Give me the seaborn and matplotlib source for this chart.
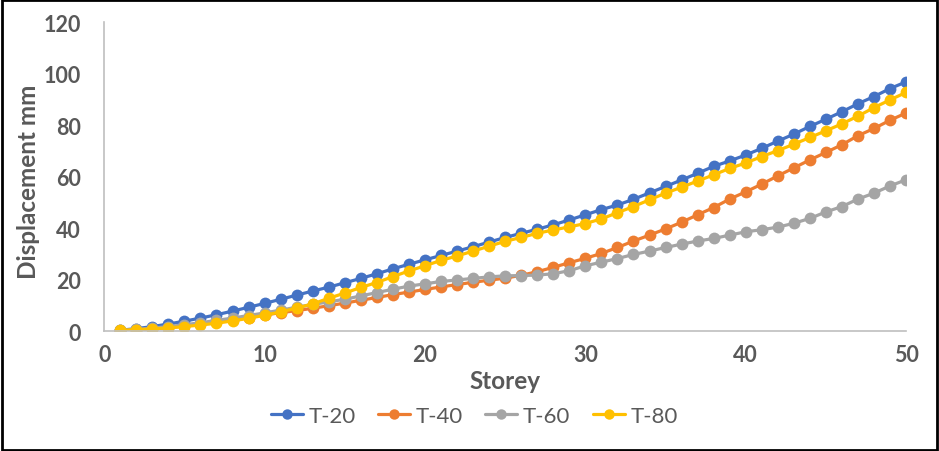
import matplotlib
matplotlib.use("Agg")
import matplotlib.pyplot as plt
import seaborn as sns
import pandas as pd
from matplotlib.patches import Rectangle

storey = list(range(1, 51))

t20 = [0.4, 1.0, 1.8, 2.8, 3.9, 5.1, 6.4, 7.8, 9.3, 10.8,
       12.4, 14.0, 15.6, 17.1, 18.8, 20.5, 22.3, 24.2, 26.0, 27.7,
       29.4, 31.1, 32.8, 34.6, 36.4, 38.0, 39.6, 41.3, 43.2, 45.2,
       47.2, 49.0, 51.2, 53.7, 56.2, 58.7, 61.3, 64.0, 66.1, 68.4,
       71.0, 73.8, 76.5, 79.5, 82.3, 85.2, 88.3, 91.1, 94.2, 96.8]

t40 = [0.2, 0.5, 0.9, 1.4, 2.0, 2.7, 3.5, 4.4, 5.3, 6.3,
       7.2, 8.0, 8.9, 9.9, 10.9, 12.0, 13.1, 14.2, 15.2, 16.2,
       17.2, 18.1, 19.0, 19.8, 20.6, 21.7, 23.1, 24.8, 26.6, 28.3,
       30.2, 32.5, 35.0, 37.3, 39.7, 42.3, 45.2, 48.0, 51.3, 54.1,
       57.1, 60.3, 63.4, 66.5, 69.4, 72.4, 75.9, 78.7, 81.9, 84.7]

t60 = [0.3, 0.7, 1.2, 1.8, 2.5, 3.3, 4.2, 5.1, 6.1, 7.1,
       8.2, 9.3, 10.4, 11.4, 12.4, 13.7, 15.0, 16.3, 17.5, 18.4,
       19.3, 19.9, 20.5, 21.1, 21.5, 21.6, 21.8, 22.3, 23.5, 25.4,
       26.8, 28.2, 29.8, 31.1, 32.5, 33.8, 35.0, 36.0, 37.3, 38.6,
       39.4, 40.4, 41.9, 43.8, 46.3, 48.4, 51.3, 53.6, 56.4, 58.8]

t80 = [0.4, 0.6, 0.9, 1.3, 1.8, 2.4, 3.1, 4.0, 5.0, 6.2,
       7.5, 9.0, 10.6, 12.8, 14.8, 17.0, 18.9, 21.2, 23.4, 25.4,
       27.5, 29.2, 31.1, 33.0, 34.9, 36.4, 38.0, 39.3, 40.5, 41.8,
       43.6, 46.0, 48.4, 51.0, 53.6, 55.9, 58.3, 60.7, 63.2, 65.3,
       67.8, 70.1, 72.6, 75.2, 77.8, 80.5, 83.5, 86.8, 89.8, 92.7]

series_names = ["T-20", "T-40", "T-60", "T-80"]
series_vals = [t20, t40, t60, t80]
colors = ["#4472C4", "#ED7D31", "#A5A5A5", "#FFC000"]

x_ticks = [0, 10, 20, 30, 40, 50]
y_ticks = [0, 20, 40, 60, 80, 100, 120]

rows = []
for name, vals in zip(series_names, series_vals):
    for s, v in zip(storey, vals):
        rows.append({"Storey": s, "Displacement": v, "Series": name})
df = pd.DataFrame(rows)

sns.set_theme(style="white")
plt.rcParams['font.family'] = ['Lato', 'DejaVu Sans']

fig = plt.figure(figsize=(9.39, 4.52), dpi=100)
ax = fig.add_axes([0.111, 0.265, 0.854, 0.684])

sns.lineplot(data=df, x="Storey", y="Displacement", hue="Series",
             hue_order=series_names, palette=colors, marker="o",
             markersize=8.5, markeredgewidth=0, linewidth=2.3, ax=ax,
             legend=True)

ax.set_xlim(0, 50)
ax.set_ylim(0, 120)
ax.set_xticks(x_ticks)
ax.set_yticks(y_ticks)
ax.tick_params(axis="both", length=0, labelsize=15.5, labelcolor="#595959")
ax.tick_params(axis="y", pad=17)
ax.tick_params(axis="x", pad=9)
for lab in ax.get_xticklabels() + ax.get_yticklabels():
    lab.set_fontweight("bold")

for side in ["top", "right"]:
    ax.spines[side].set_visible(False)
for side in ["left", "bottom"]:
    ax.spines[side].set_color("#BFBFBF")
    ax.spines[side].set_linewidth(1.2)

ax.set_xlabel("Storey", fontsize=17.5, fontweight="bold", color="#595959", labelpad=3)
ax.set_ylabel("Displacement mm", fontsize=17.5, fontweight="bold", color="#595959")
ax.yaxis.set_label_coords(-0.08, 0.485)

handles, labels = ax.get_legend_handles_labels()
ax.legend_.remove()
for h in handles:
    h.set_markersize(7.5)
leg = fig.legend(handles, labels, loc="center", bbox_to_anchor=(0.505, 0.078),
                 ncol=4, frameon=False, fontsize=16, handlelength=1.45,
                 columnspacing=1.0, handletextpad=0.25)
for t in leg.get_texts():
    t.set_color("#595959")

fig.patches.append(Rectangle((0.002, 0.003), 0.996, 0.994, transform=fig.transFigure,
                             fill=False, edgecolor="black", linewidth=2))

fig.savefig("out.png", dpi=100)
